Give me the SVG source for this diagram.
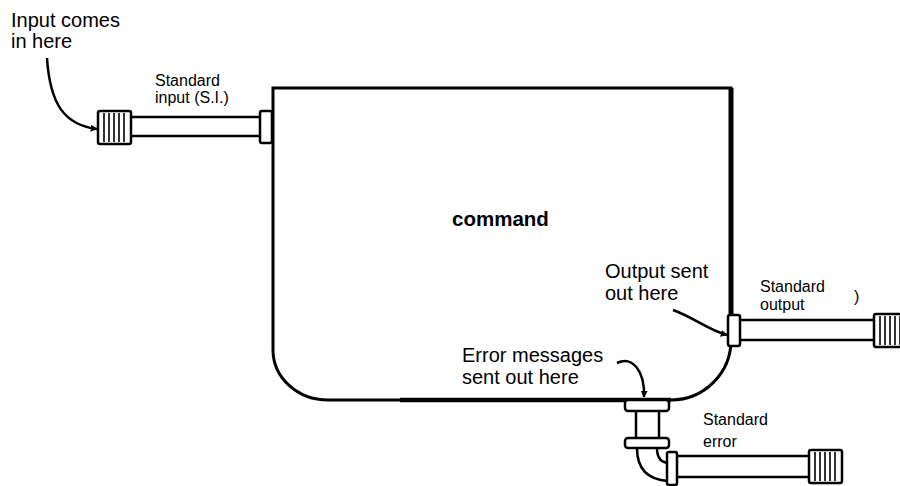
<svg xmlns="http://www.w3.org/2000/svg" width="900" height="486" viewBox="0 0 900 486">
  <defs>
    <marker id="head" viewBox="0 0 10 10" refX="9" refY="5" markerWidth="7" markerHeight="7" markerUnits="userSpaceOnUse" orient="auto">
      <path d="M0,0 L10,5 L0,10 Z" fill="#000"/>
    </marker>
    <!-- threaded pipe end -->
    <g id="thread">
      <rect x="0" y="0" width="33" height="33" rx="2" fill="#fff" stroke="#000" stroke-width="2.5"/>
      <path d="M6,2 V31 M11,2 V31 M16,2 V31 M21,2 V31 M26,2 V31" stroke="#000" stroke-width="1.6"/>
    </g>
  </defs>
  <style>
    .note { font-family: "Liberation Sans", Arial, sans-serif; font-size: 20px; fill: #000; }
    .lbl { font-family: "Liberation Sans", Arial, sans-serif; font-size: 16px; fill: #000; }
    .title { font-family: "Liberation Sans", Arial, sans-serif; font-size: 20.5px; font-weight: bold; fill: #000; }
    .pipe { fill: none; stroke: #000; stroke-width: 2.5; }
    .flange { fill: #fff; stroke: #000; stroke-width: 2.5; }
    .arrow { fill: none; stroke: #000; stroke-width: 2.5; marker-end: url(#head); }
  </style>
  <rect width="900" height="486" fill="#fff"/>

  <!-- the command tank -->
  <g id="command">
    <path d="M273,350 L273,88 L731,88 L731,340 A60,60 0 0 1 671,400 L328,400 A55,50 0 0 1 273,350 Z" fill="#fff" stroke="#000" stroke-width="3"/>
    <path d="M731,88 V316" stroke="#000" stroke-width="5"/>
    <path d="M400,400 H671" stroke="#000" stroke-width="4.5"/>
    <text class="title" x="452" y="226">command</text>
  </g>

  <!-- standard input pipe -->
  <g id="stdin">
    <path class="pipe" d="M132,117 H261"/>
    <path class="pipe" d="M132,136 H261" stroke-width="3.2"/>
    <rect class="flange" x="260" y="111" width="12" height="32" rx="2"/>
    <use href="#thread" x="98" y="111"/>
    <text class="lbl" x="155" y="86">Standard</text>
    <text class="lbl" x="155" y="103">input (S.I.)</text>
  </g>

  <!-- standard output pipe -->
  <g id="stdout">
    <path class="pipe" d="M740,320 H876"/>
    <path class="pipe" d="M740,340 H876" stroke-width="3.2"/>
    <rect class="flange" x="728" y="315" width="12" height="31" rx="2"/>
    <use href="#thread" x="874" y="314"/>
    <text class="lbl" x="760" y="292">Standard</text>
    <text class="lbl" x="760" y="310">output</text>
    <text class="lbl" x="854" y="302" font-size="13">)</text>
  </g>

  <!-- standard error pipe with elbow -->
  <g id="stderr">
    <path class="pipe" d="M636,411 V438 M659,411 V438"/>
    <rect class="flange" x="625" y="400" width="44" height="11" rx="3"/>
    <path class="pipe" d="M637,448 Q637,479 668,481 M657,448 Q657,462 668,463"/>
    <rect class="flange" x="625" y="438" width="44" height="10" rx="3"/>
    <path class="pipe" d="M677,456 H810"/>
    <path class="pipe" d="M677,477 H810" stroke-width="3.2"/>
    <rect class="flange" x="667" y="452" width="10" height="33" rx="2"/>
    <use href="#thread" x="809" y="450"/>
    <text class="lbl" x="703" y="425">Standard</text>
    <text class="lbl" x="703" y="447">error</text>
  </g>

  <!-- notes -->
  <g id="notes">
    <text class="note" x="11" y="27">Input comes</text>
    <text class="note" x="11" y="48">in here</text>
    <text class="note" x="605" y="278">Output sent</text>
    <text class="note" x="605" y="300">out here</text>
    <text class="note" x="462" y="362">Error messages</text>
    <text class="note" x="462" y="384">sent out here</text>
  </g>

  <!-- pointer arrows -->
  <g id="connectors">
    <path class="arrow" d="M47,58 C50,105 65,125 97,129"/>
    <path class="arrow" d="M673,310 C695,318 708,330 727,335"/>
    <path class="arrow" d="M617,363 C632,356 645,370 644,397"/>
  </g>
</svg>
